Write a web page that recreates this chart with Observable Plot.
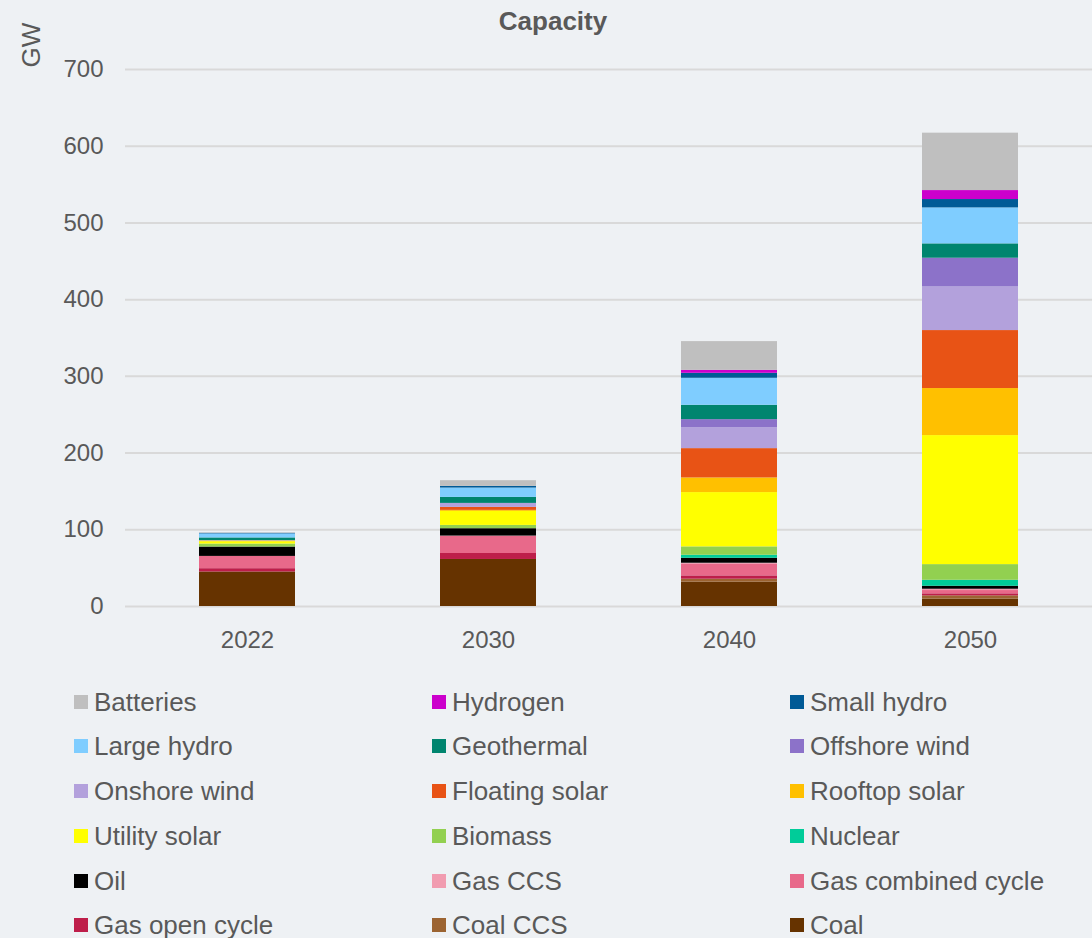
<!DOCTYPE html>
<html>
<head>
<meta charset="utf-8">
<script src="https://cdn.jsdelivr.net/npm/d3@7"></script>
<script src="https://cdn.jsdelivr.net/npm/@observablehq/plot@0.6"></script>
<style>
  html, body { margin: 0; padding: 0; background: #eef1f4; }
  #wrap { position: relative; width: 1092px; height: 938px; background: #eef1f4; overflow: hidden;
          font-family: "Liberation Sans", Arial, sans-serif; color: #595959; }
  #chart { position: absolute; left: 0; top: 0; }
  #title { position: absolute; left: 0; width: 1106px; top: 6px; text-align: center; font-weight: bold; font-size: 26px; }
  #ylab { position: absolute; left: 31px; top: 45px; font-size: 26px; transform: translate(-50%, -50%) rotate(-90deg); white-space: nowrap; }
  .lg { position: absolute; font-size: 26px; white-space: nowrap; line-height: 30px; }
  .sw { position: absolute; width: 14px; height: 14px; }
</style>
</head>
<body>
<div id="wrap">
  <div id="chart"></div>
  <div id="title">Capacity</div>
  <div id="ylab">GW</div>
</div>
<script>
const years = ["2022", "2030", "2040", "2050"];

// bottom to top stacking order
const techs = ["Coal", "Coal CCS", "Gas open cycle", "Gas combined cycle", "Gas CCS", "Oil", "Nuclear",
  "Biomass", "Utility solar", "Rooftop solar", "Floating solar", "Onshore wind", "Offshore wind",
  "Geothermal", "Large hydro", "Small hydro", "Hydrogen", "Batteries"];

const colors = ["#663300", "#9c6432", "#be1e4a", "#e8698a", "#f19cb0", "#000000", "#00cc99",
  "#92d050", "#ffff00", "#ffc000", "#e85315", "#b3a1dc", "#8c72c9",
  "#00856f", "#7fcdff", "#005a96", "#cc00cc", "#bfbfbf"];

// GW values per technology for 2022, 2030, 2040, 2050
const coal            = [45.0, 61.3, 31.7,   9.6];
const coalCCS         = [ 0.0,  0.0,  3.9,   4.3];
const gasOpenCycle    = [ 4.3,  7.8,  4.3,   2.6];
const gasCombined     = [16.0, 22.2, 15.6,   4.3];
const gasCCS          = [ 0.0,  0.5,  0.9,   1.7];
const oil             = [12.2,  9.6,  6.5,   3.9];
const nuclear         = [ 0.0,  0.0,  3.9,   7.8];
const biomass         = [ 3.9,  4.3, 10.9,  20.4];
const utilitySolar    = [ 3.0, 18.3, 70.8, 168.2];
const rooftopSolar    = [ 1.0,  1.3, 19.1,  61.3];
const floatingSolar   = [ 0.0,  3.9, 38.2,  75.6];
const onshoreWind     = [ 0.5,  5.2, 27.4,  56.9];
const offshoreWind    = [ 0.0,  0.0, 10.4,  37.4];
const geothermal      = [ 3.5,  7.8, 18.7,  18.7];
const largeHydro      = [ 5.2, 12.2, 35.2,  46.9];
const smallHydro      = [ 0.8,  2.2,  6.5,  10.9];
const hydrogen        = [ 0.0,  0.0,  3.9,  11.7];
const batteries       = [ 0.6,  7.4, 37.4,  74.8];

const series = [coal, coalCCS, gasOpenCycle, gasCombined, gasCCS, oil, nuclear, biomass,
  utilitySolar, rooftopSolar, floatingSolar, onshoreWind, offshoreWind, geothermal,
  largeHydro, smallHydro, hydrogen, batteries];

const yTicks = [0, 100, 200, 300, 400, 500, 600, 700];

// legend order (row-major, 3 columns)
const legendOrder = ["Batteries", "Hydrogen", "Small hydro", "Large hydro", "Geothermal", "Offshore wind",
  "Onshore wind", "Floating solar", "Rooftop solar", "Utility solar", "Biomass", "Nuclear",
  "Oil", "Gas CCS", "Gas combined cycle", "Gas open cycle", "Coal CCS", "Coal"];

const data = [];
techs.forEach((t, i) => {
  years.forEach((y, j) => {
    data.push({year: y, tech: t, value: series[i][j]});
  });
});

const font = '"Liberation Sans", Arial, sans-serif';

const chart = Plot.plot({
  width: 1092,
  height: 660,
  marginTop: 69,
  marginBottom: 54,
  marginLeft: 125,
  marginRight: 0,
  style: {background: "transparent", fontFamily: font, color: "#595959", fontSize: "24px"},
  x: {domain: years, paddingInner: 0.6, paddingOuter: 0.3, label: null},
  y: {domain: [0, 700], label: null},
  color: {domain: techs, range: colors},
  marks: [
    Plot.gridY(yTicks, {stroke: "#d9d9d9", strokeOpacity: 1, strokeWidth: 2}),
    Plot.barY(data, {x: "year", y: "value", fill: "tech", order: techs}),
    Plot.axisY(yTicks, {tickSize: 0, tickPadding: 22, fontSize: 24, label: null, fill: "#595959"}),
    Plot.axisX({tickSize: 0, tickPadding: 24, fontSize: 24, label: null, fill: "#595959"})
  ]
});
document.getElementById("chart").appendChild(chart);

// legend
const wrap = document.getElementById("wrap");
const colX = [74, 432, 790];
const rowY = [702, 746, 791, 836, 881, 925];
legendOrder.forEach((name, k) => {
  const c = k % 3, r = Math.floor(k / 3);
  const col = colors[techs.indexOf(name)];
  const sw = document.createElement("div");
  sw.className = "sw";
  sw.style.left = colX[c] + "px";
  sw.style.top = (rowY[r] - 7) + "px";
  sw.style.background = col;
  wrap.appendChild(sw);
  const tx = document.createElement("div");
  tx.className = "lg";
  tx.style.left = (colX[c] + 20) + "px";
  tx.style.top = (rowY[r] - 15) + "px";
  tx.textContent = name;
  wrap.appendChild(tx);
});
</script>
</body>
</html>
